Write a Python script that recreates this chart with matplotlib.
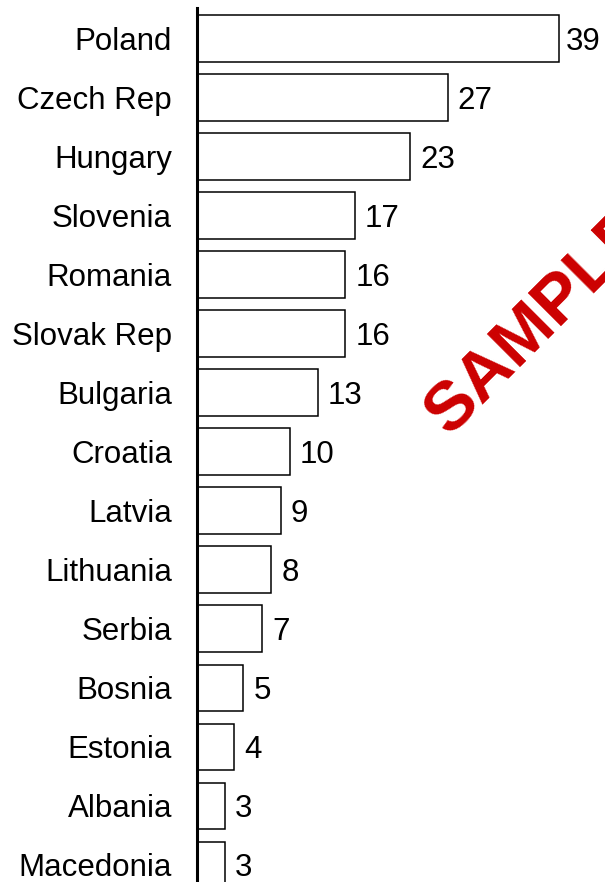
import matplotlib
matplotlib.use("Agg")
import matplotlib.pyplot as plt

countries = ["Poland", "Czech Rep", "Hungary", "Slovenia", "Romania", "Slovak Rep",
             "Bulgaria", "Croatia", "Latvia", "Lithuania", "Serbia", "Bosnia",
             "Estonia", "Albania", "Macedonia"]
values = [39, 27, 23, 17, 16, 16, 13, 10, 9, 8, 7, 5, 4, 3, 3]

plt.rcParams['font.family'] = ['Liberation Sans', 'DejaVu Sans']

W, H = 605, 882
fig = plt.figure(figsize=(W / 100, H / 100), dpi=100)
ax = fig.add_axes([197 / W, 0, 1 - 197 / W, (H - 8) / H])

pos = list(range(len(countries)))
ax.barh(pos, values, height=0.79, color="white", edgecolor="black", linewidth=1.1)
ax.set_ylim(len(countries) - 1 + 0.288, -0.512)
ax.set_xlim(0, 408 / 9.28)

for p, v in zip(pos, values):
    off = 0.75 if v == max(values) else 1.1
    ax.text(v + off, p, str(v), va="center_baseline", ha="left", fontsize=22.5)

ax.set_yticks(pos)
ax.set_yticklabels(countries, fontsize=22.5)
ax.tick_params(axis="y", length=0, pad=18)
ax.set_xticks([])
for s in ["top", "right", "bottom"]:
    ax.spines[s].set_visible(False)
ax.spines["left"].set_linewidth(2.2)

fig.text(450 / W, 1 - 437 / H, "SAMPLE", color="#CC0000", fontsize=50, fontweight="bold",
         rotation=45, rotation_mode="anchor", ha="left", va="baseline")

fig.savefig("out.png", dpi=100)
